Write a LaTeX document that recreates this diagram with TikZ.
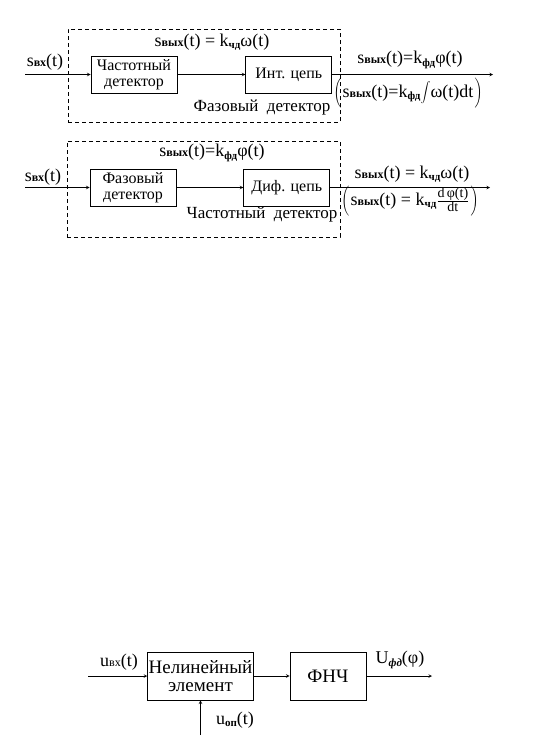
\documentclass[tikz,border=0pt]{standalone}
\usepackage{fontspec}
\setmainfont{Liberation Serif}
\usetikzlibrary{arrows,positioning}

\newcommand{\sv}{s{\fontsize{12}{12}\selectfont\bfseries вых}}
\newcommand{\svx}{s{\fontsize{12}{12}\selectfont\bfseries вх}}
\newcommand{\ksub}[1]{\raisebox{-0.3ex}{\fontsize{11}{11}\selectfont\bfseries #1}}
\newcommand{\tallpar}{\vrule height 15pt depth 10pt width 0pt}

\begin{document}
\begin{tikzpicture}[x=1pt, y=-1pt,
    block/.style={draw, line width=0.8pt, minimum width=86pt, minimum height=37pt, align=center, inner sep=1pt, font=\fontsize{16}{16}\selectfont},
    frame/.style={draw, dash pattern=on 4pt off 3pt, line width=0.7pt},
    lbl/.style={inner sep=0pt, font=\fontsize{18}{20}\selectfont},
    mess/.style={->, >=stealth, line width=0.6pt}
]
\useasboundingbox (0,0) rectangle (540,745);

% Phase detector (frequency detector + integrator)
\node[frame, minimum width=272pt, minimum height=93pt] (pd) at (204,75.5) {};
\node[block] (fd1) at (134,74.5) {Частотный\\детектор};
\node[block, right=68pt of fd1] (int) {Инт. цепь};
\coordinate (in1) at (25,74.5);
\coordinate (out1) at (493,74.5);

\draw[mess] (in1) -- (fd1);
\draw[mess] (fd1) -- (int);
\draw[mess] (int) -- (out1);

\node[lbl] (x1) at (45,62) {\svx(t)};
\node[lbl] (w1) at (212,42) {\sv(t) = k\ksub{чд}ω(t)};
\node[lbl] (y1) at (410,60) {\sv(t)=k\ksub{фд}φ(t)};
\node[lbl] (f1) at (408,93) {$\left(\tallpar\right.$\sv(t)=k\ksub{фд}$\displaystyle\int$ω(t)dt$\left.\tallpar\right)$};
\node[lbl, font=\fontsize{17}{19}\selectfont] (n1) at (262,107) {Фазовый\ \ детектор};

% Frequency detector (phase detector + differentiator)
\node[frame, minimum width=273pt, minimum height=96pt] (fd) at (203.5,189) {};
\node[block] (pd2) at (133,187.5) {Фазовый\\детектор};
\node[block, right=67pt of pd2] (dif) {Диф. цепь};
\coordinate (in2) at (25,187.5);
\coordinate (out2) at (490,187.5);

\draw[mess] (in2) -- (pd2);
\draw[mess] (pd2) -- (dif);
\draw[mess] (dif) -- (out2);

\node[lbl] (x2) at (43,177) {\svx(t)};
\node[lbl] (w2) at (212,153) {\sv(t)=k\ksub{фд}φ(t)};
\node[lbl] (y2) at (412,174) {\sv(t) = k\ksub{чд}ω(t)};
\node[lbl] (f2) at (410,201) {$\left(\tallpar\right.$\sv(t) = k\ksub{чд}$\frac{\hbox{\fontsize{14}{14}\selectfont d\,φ(t)}}{\hbox{\fontsize{14}{14}\selectfont dt}}$$\left.\tallpar\right)$};
\node[lbl, font=\fontsize{17}{19}\selectfont] (n2) at (262,214) {Частотный\ \ детектор};

% Nonlinear element + LPF
\node[block, minimum width=105pt, minimum height=48pt, font=\fontsize{19}{18}\selectfont] (nl) at (200.5,676) {Нелинейный\\элемент};
\node[block, minimum width=76pt, minimum height=48pt, font=\fontsize{19}{18}\selectfont] (lpf) at (328,676) {ФНЧ};
\coordinate (in3) at (88,676);
\coordinate (out3) at (432,676);
\coordinate (ref) at (200.5,735);

\draw[mess] (in3) -- (nl);
\draw[mess] (nl) -- (lpf);
\draw[mess] (lpf) -- (out3);
\draw[mess] (ref) -- (nl);

\node[lbl] (x3) at (119,662) {u{\fontsize{12}{12}\selectfont вх}(t)};
\node[lbl] (y3) at (400,660) {U\ksub{\itshape фд}(φ)};
\node[lbl] (r3) at (235,720) {u\ksub{оп}(t)};

\end{tikzpicture}
\end{document}
